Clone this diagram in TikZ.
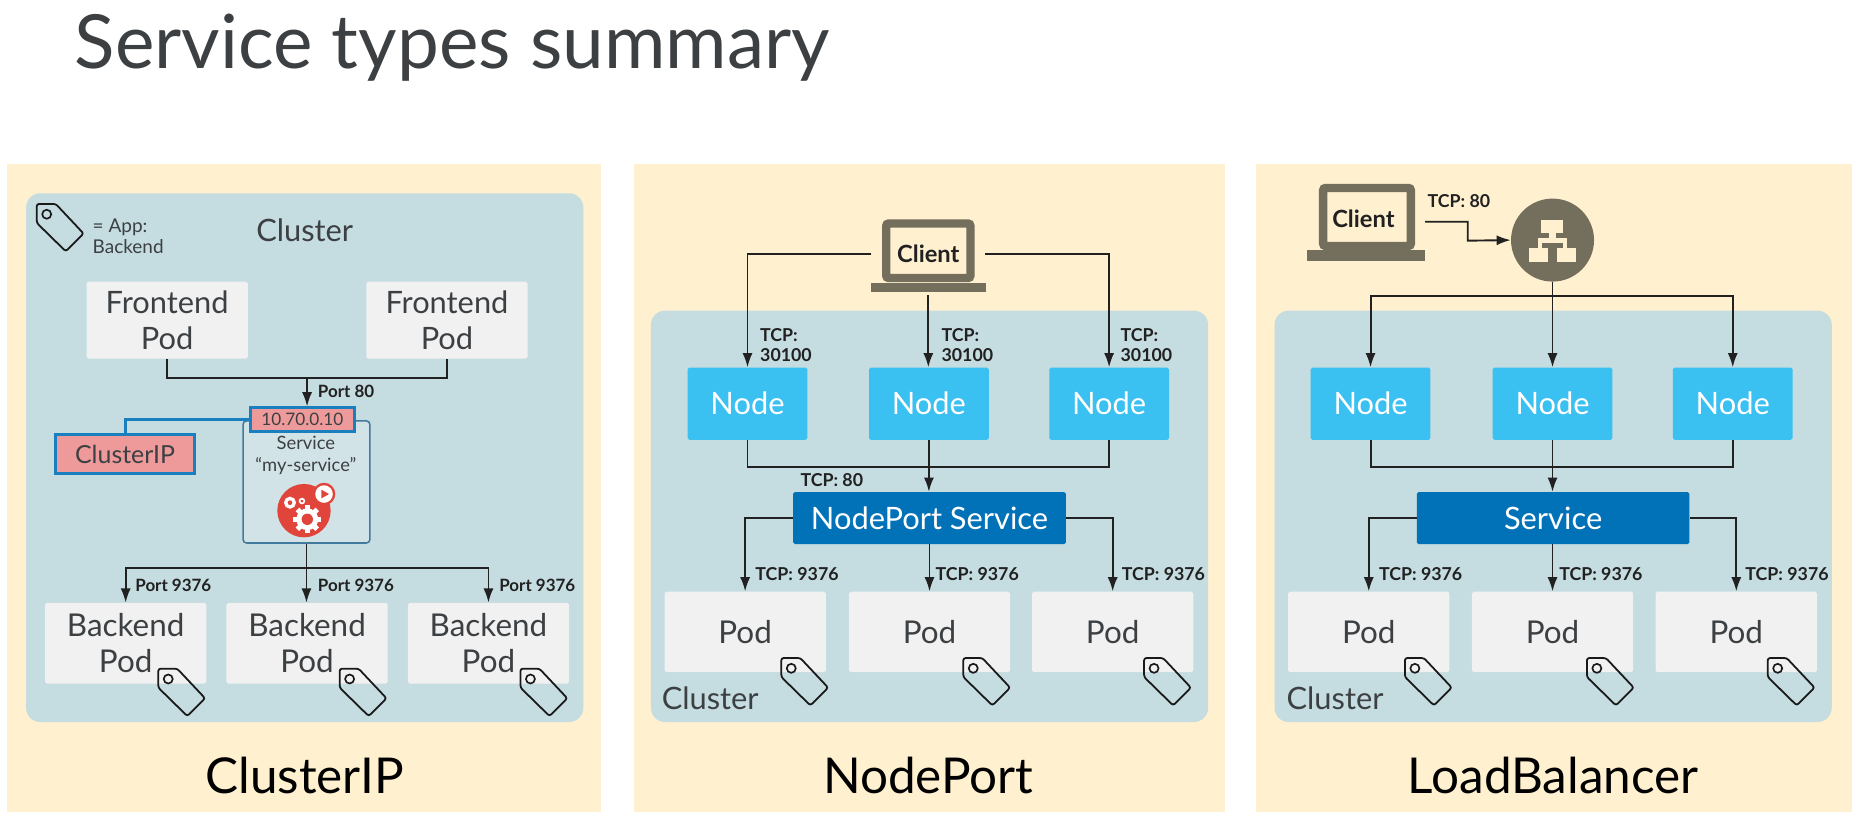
\documentclass[tikz,border=0pt]{standalone}
\usepackage{fontspec}
\setmainfont{Lato}
\usetikzlibrary{arrows.meta,calc}
\definecolor{panelc}{HTML}{FFF0CF}
\definecolor{clusterc}{HTML}{C5DCE0}
\definecolor{podc}{HTML}{F1F1F1}
\definecolor{brownc}{HTML}{746E5C}
\definecolor{linec}{HTML}{212121}
\definecolor{nodec}{HTML}{3BC0F2}
\definecolor{svcc}{HTML}{0272B8}
\definecolor{pinkc}{HTML}{EE9A9A}
\definecolor{ipblue}{HTML}{1A7FBF}
\definecolor{redc}{HTML}{E0443A}
\definecolor{textc}{HTML}{3C4043}
\tikzset{
  x=1pt,y=-1pt,
  cluster/.style={fill=clusterc,draw=none,rounded corners=12pt},
  boxbase/.style={draw=none,inner sep=0pt,align=center,rounded corners=1.5pt},
  pod/.style={boxbase,fill=podc,minimum width=136pt,minimum height=68pt,text=textc,font=\fontsize{26.5}{30.5}\selectfont},
  fpod/.style={pod,minimum height=65pt,font=\fontsize{26}{30}\selectfont},
  knode/.style={boxbase,fill=nodec,minimum width=101pt,minimum height=61pt,text=white,font=\fontsize{26}{31}\selectfont},
  svc/.style={boxbase,fill=svcc,minimum width=230pt,minimum height=44pt,text=white,font=\fontsize{26}{30}\selectfont},
  lbl/.style={inner sep=0pt,anchor=west,text=linec,align=left,font=\fontsize{15}{16.5}\selectfont\bfseries},
  plbl/.style={lbl,font=\fontsize{14.3}{16.5}\selectfont\bfseries},
  captxt/.style={inner sep=0pt,text=black,font=\fontsize{41.7}{46}\selectfont},
  clab/.style={inner sep=0pt,text=textc,font=\fontsize{26}{30}\selectfont},
  screen/.style={draw=brownc,line width=7pt,fill=panelc,rounded corners=2pt,inner sep=0pt},
  clienttxt/.style={inner sep=0pt,text=linec,font=\fontsize{20}{22}\selectfont\bfseries},
  lapbase/.style={fill=brownc,draw=none,inner sep=0pt,minimum width=97pt,minimum height=8pt},
  conn/.style={draw=linec,line width=1.6pt},
  arr/.style={conn,-{Latex[length=12pt,width=8.5pt]}},
  tagpic/.pic={
    \draw[draw=black!90,line width=1.5pt,rounded corners=2pt]
      (8,0)--(16,0)--(39.5,25)--(24.5,40)--(0,16)--(0,0)--cycle;
    \draw[draw=black!90,line width=1.4pt] (8.4,8.7) circle (3.8);
  }
}
\begin{document}
\begin{tikzpicture}
\useasboundingbox (0,0) rectangle (1568,694);
\fill[white] (0,0) rectangle (1568,694);
\node[inner sep=0pt,anchor=base west,text=textc,font=\fontsize{63}{70}\selectfont] (title) at (63,58) {Service types summary};

% panels
\fill[panelc] (6,138) rectangle (507,685);
\fill[panelc] (535,138) rectangle (1033,685);
\fill[panelc] (1059,138) rectangle (1562,685);
\fill[cluster] (22,163) rectangle (492,609);
\fill[cluster] (549,262) rectangle (1019,609);
\fill[cluster] (1075,262) rectangle (1545,609);

\node[captxt] (capa) at (257,654) {ClusterIP};
\node[captxt] (capb) at (783,654) {NodePort};
\node[captxt] (capc) at (1310,654) {LoadBalancer};

% ---- ClusterIP
\pic at (31,172) {tagpic};
\node[inner sep=0pt,anchor=west,align=left,text=textc,font=\fontsize{16}{17.5}\selectfont] (legend) at (78,199) {= App:\\Backend};
\node[clab] (cla) at (257,194) {Cluster};
\node[fpod] (f1) at (141,270) {Frontend\\Pod};
\node[fpod] (f2) at (377,270) {Frontend\\Pod};
\node[draw=ipblue!70!black!80,fill=clusterc!80!white,line width=1.3pt,rounded corners=3pt,minimum width=107pt,minimum height=103pt,inner sep=0pt] (svcbox) at (258.5,406.5) {};
\node[draw=ipblue,fill=pinkc,line width=2.4pt,minimum width=88pt,minimum height=20pt,inner sep=0pt,text=textc,font=\fontsize{14.5}{18}\selectfont] (ip) at (255,354) {10.70.0.10};
\node[draw=ipblue,fill=pinkc,line width=2.6pt,minimum width=117pt,minimum height=33pt,inner sep=0pt,text=textc,font=\fontsize{21}{25}\selectfont] (cip) at (105.5,383) {ClusterIP};
\draw[draw=ipblue,line width=2.4pt] (cip.north) |- (ip.west);
\node[inner sep=0pt,align=center,text=textc,font=\fontsize{15.5}{19}\selectfont] (svct) at (258,384) {Service\\“my-service”};
\coordinate (jf) at (259,319);
\draw[conn] (f1.south) |- (jf) -| (f2.south);
\draw[arr] (jf) -- (ip.north -| jf);
\node[plbl] (p80) at (268,330) {Port 80};
% icon
\fill[redc] (256.4,430.7) circle (22.5);
\fill[redc] (273.3,416.7) circle (9.5);
\fill[white] (273.3,416.7) circle (7.4);
\fill[redc] (271,413) -- (277.5,416.7) -- (271,420.4) -- cycle;
\draw[white,line width=2.8pt] (244.6,424) circle (3.6);
\draw[white,line width=1.4pt] (254.7,422.6) circle (2);
\fill[white] (259.2,438) circle (9.2);
\foreach \a in {0,45,...,315}{\fill[white,rotate around={\a:(259.2,438)}] (257.1,426.2) rectangle (261.3,431);}
\fill[redc] (259.2,438) circle (4.8);

\coordinate (s1) at (258.5,479);
\node[pod] (b1) at (106,542.5) {Backend\\Pod};
\node[pod] (b2) at (259,542.5) {Backend\\Pod};
\node[pod] (b3) at (412,542.5) {Backend\\Pod};
\draw[arr] (svcbox.south) -- (svcbox.south |- b2.north);
\draw[arr] (s1) -| (b1.north);
\draw[arr] (s1) -| (b3.north);
\node[plbl] (l1) at (114,494) {Port 9376};
\node[plbl] (l2) at (268,494) {Port 9376};
\node[plbl] (l3) at (421,494) {Port 9376};
\pic at (133.5,564) {tagpic};
\pic at (286.5,564) {tagpic};
\pic at (439,564) {tagpic};

% ---- NodePort
\node[screen,minimum width=71pt,minimum height=46pt] (cb) at (783,211.5) {};
\node[clienttxt] (cbt) at (783,214) {Client};
\node[lapbase] (cbb) at (783,242.5) {};
\coordinate (cbl) at (735,214);
\coordinate (cbr) at (831,214);
\coordinate (cbc) at (783,249);
\node[knode] (nb1) at (630.5,340.5) {Node};
\node[knode] (nb2) at (783.5,340.5) {Node};
\node[knode] (nb3) at (935.5,340.5) {Node};
\node[svc] (sb) at (784,437) {NodePort Service};
\node[pod] (pb1) at (628.5,533) {Pod};
\node[pod] (pb2) at (784,533) {Pod};
\node[pod] (pb3) at (938.5,533) {Pod};
\draw[arr] (cbl) -| (nb1.north);
\draw[arr] (cbr) -| (nb3.north);
\draw[arr] (cbc) -- (cbc |- nb2.north);
\node[lbl] at (641,291) {TCP:\\30100};
\node[lbl] at (794,291) {TCP:\\30100};
\node[lbl] at (945,291) {TCP:\\30100};
\coordinate (jb) at (783.5,394);
\draw[conn] (nb1.south) |- (jb) -| (nb3.south);
\draw[arr] (nb2.south) -- (sb.north -| nb2.south);
\node[lbl] at (675,405) {TCP: 80};
\draw[arr] (sb.west) -| (pb1.north);
\draw[arr] (sb.east) -| (pb3.north);
\draw[arr] (sb.south) -- (pb2.north);
\node[lbl] at (637,484) {TCP: 9376};
\node[lbl] at (789,484) {TCP: 9376};
\node[lbl] at (946,484) {TCP: 9376};
\pic at (659,555) {tagpic};
\pic at (812.5,555) {tagpic};
\pic at (965,555) {tagpic};
\node[clab,anchor=west] (clb) at (558,589) {Cluster};

% ---- LoadBalancer
\node[screen,minimum width=74pt,minimum height=49pt] (cc) at (1153,183) {};
\node[clienttxt] (cct) at (1150,184.5) {Client};
\node[lapbase,minimum width=100pt,minimum height=9pt] (ccb) at (1152,215.5) {};
\node[circle,fill=brownc,draw=none,minimum size=70pt,inner sep=0pt] (lb) at (1309.5,202.5) {};
\begin{scope}[shift={(1309.3,202.4)}]
\fill[panelc] (-9.3,-16.9) rectangle (9.3,-6.2);
\fill[panelc] (-3,-6.2) rectangle (3,-1.4);
\fill[panelc] (-12.4,-1.4) rectangle (12,2.8);
\fill[panelc] (-12.4,-1.4) rectangle (-9,7);
\fill[panelc] (9,-1.4) rectangle (12,7);
\fill[panelc] (-20,7) rectangle (-3.9,18.3);
\fill[panelc] (4.2,7) rectangle (20,18.3);
\end{scope}
\coordinate (cco) at (1202,187);
\coordinate (ccm) at (1238,203);
\draw[arr] (cco) -| (ccm) -- (lb.west);
\node[lbl] at (1204,170) {TCP: 80};
\node[knode] (nc1) at (1156,340.5) {Node};
\node[knode] (nc2) at (1309.5,340.5) {Node};
\node[knode] (nc3) at (1461.5,340.5) {Node};
\node[svc] (sc) at (1310,437) {Service};
\node[pod] (pc1) at (1154.5,533) {Pod};
\node[pod] (pc2) at (1309.5,533) {Pod};
\node[pod] (pc3) at (1464.5,533) {Pod};
\coordinate (jc0) at (1310,250);
\draw[arr] (lb.south) -- (lb.south |- nc2.north);
\draw[arr] (jc0) -| (nc1.north);
\draw[arr] (jc0) -| (nc3.north);
\coordinate (jc) at (1310,394);
\draw[conn] (nc1.south) |- (jc) -| (nc3.south);
\draw[arr] (nc2.south) -- (sc.north -| nc2.south);
\draw[arr] (sc.west) -| (pc1.north);
\draw[arr] (sc.east) -| (pc3.north);
\draw[arr] (sc.south -| pc2.north) -- (pc2.north);
\node[lbl] at (1163,484) {TCP: 9376};
\node[lbl] at (1315,484) {TCP: 9376};
\node[lbl] at (1472,484) {TCP: 9376};
\pic at (1185,555) {tagpic};
\pic at (1338.5,555) {tagpic};
\pic at (1491,555) {tagpic};
\node[clab,anchor=west] (clc) at (1085,589) {Cluster};
\end{tikzpicture}
\end{document}
